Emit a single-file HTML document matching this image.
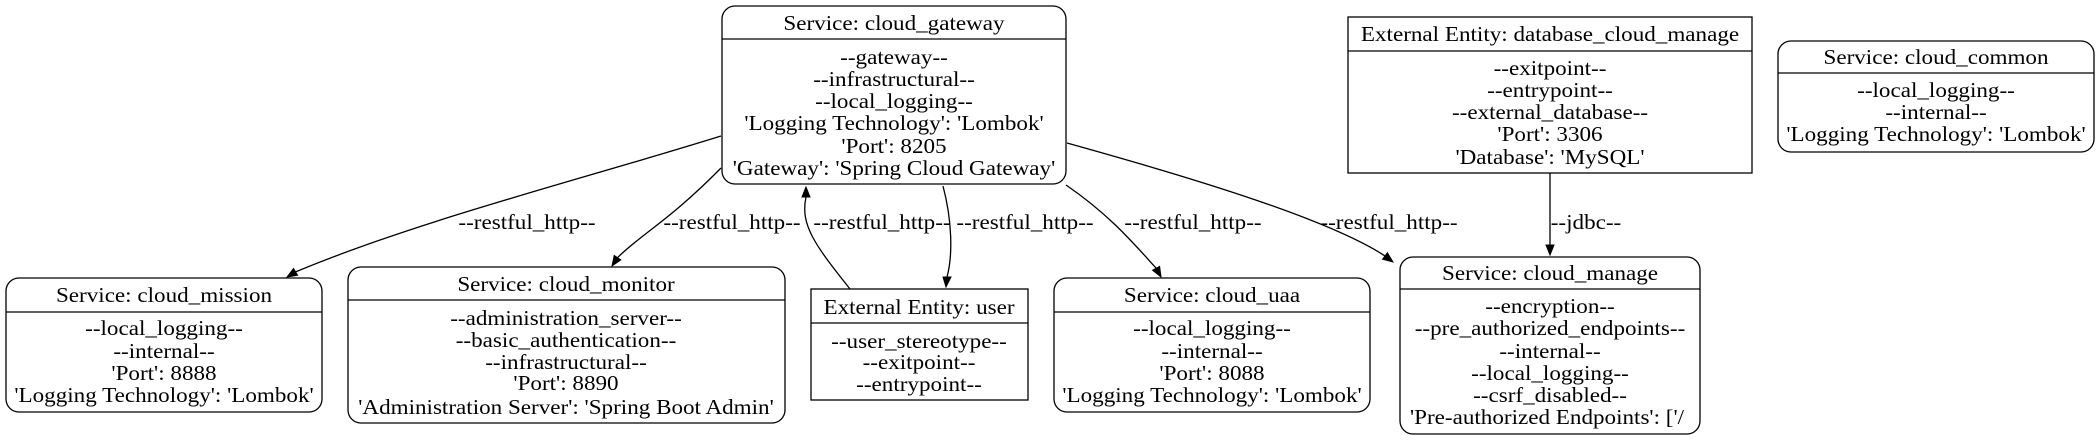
<!DOCTYPE html>
<html><head><meta charset="utf-8"><style>
html,body{margin:0;padding:0;background:#fff;width:2100px;height:440px;overflow:hidden}
svg{display:block}
text{font-family:"Liberation Serif",serif;font-size:21px;fill:#000}
</style></head><body>
<svg width="2100" height="440" viewBox="0 0 2100 440" xmlns="http://www.w3.org/2000/svg">
<g fill="none" stroke="#000" stroke-width="1.3">
<rect x="722" y="6" width="344" height="178" rx="13"/><line x1="722" y1="39" x2="1066" y2="39"/>
<rect x="6" y="278" width="316" height="134" rx="13"/><line x1="6" y1="312" x2="322" y2="312"/>
<rect x="348" y="267" width="437" height="156" rx="13"/><line x1="348" y1="300" x2="785" y2="300"/>
<rect x="811" y="289" width="217" height="111"/><line x1="811" y1="323" x2="1028" y2="323"/>
<rect x="1348" y="17" width="404" height="156"/><line x1="1348" y1="51" x2="1752" y2="51"/>
<rect x="1778" y="41" width="316" height="111" rx="13"/><line x1="1778" y1="73" x2="2094" y2="73"/>
<rect x="1054" y="278" width="316" height="134" rx="13"/><line x1="1054" y1="312" x2="1370" y2="312"/>
<rect x="1400" y="257" width="300" height="177" rx="13"/><line x1="1400" y1="289" x2="1700" y2="289"/>
<path d="M721,136 C580,180 420,220 295.6,271.9"/>
<path d="M721,168 C670,220 640,235 617.5,257.7"/>
<path d="M850,289 C815,245 800,225 806,197"/>
<path d="M943,186 C952,220 953,255 947,277"/>
<path d="M1066,185 C1110,215 1135,245 1156,268"/>
<path d="M1067,143 C1200,180 1330,220 1385,256"/>
<path d="M1550,173 L1550,245"/>
</g>
<g fill="#000" stroke="#000" stroke-width="1">
<polygon points="287,277 297.6,275.3 293.5,268.5"/>
<polygon points="612,266 620.8,259.9 614.2,255.5"/>
<polygon points="806,187 810,197 802,197"/>
<polygon points="946,287 943,277 951,277"/>
<polygon points="1161,277 1159.6,266.4 1152.6,270.2"/>
<polygon points="1393,262 1387.4,252.8 1382.6,259.2"/>
<polygon points="1550,255 1546,245 1554,245"/>
</g>
<g text-anchor="middle">
<text transform="matrix(1.1 0 0 1 894 30)">Service: cloud_gateway</text>
<text transform="matrix(1.1 0 0 1 894 64)">--gateway--</text>
<text transform="matrix(1.1 0 0 1 894 86)">--infrastructural--</text>
<text transform="matrix(1.1 0 0 1 894 108)">--local_logging--</text>
<text transform="matrix(1.1 0 0 1 894 130)">'Logging Technology': 'Lombok'</text>
<text transform="matrix(1.1 0 0 1 894 153)">'Port': 8205</text>
<text transform="matrix(1.1 0 0 1 894 175)">'Gateway': 'Spring Cloud Gateway'</text>
<text transform="matrix(1.1 0 0 1 164 302)">Service: cloud_mission</text>
<text transform="matrix(1.1 0 0 1 164 335)">--local_logging--</text>
<text transform="matrix(1.1 0 0 1 164 358)">--internal--</text>
<text transform="matrix(1.1 0 0 1 164 380)">'Port': 8888</text>
<text transform="matrix(1.1 0 0 1 164 402)">'Logging Technology': 'Lombok'</text>
<text transform="matrix(1.1 0 0 1 566 291)">Service: cloud_monitor</text>
<text transform="matrix(1.1 0 0 1 566 325)">--administration_server--</text>
<text transform="matrix(1.1 0 0 1 566 347)">--basic_authentication--</text>
<text transform="matrix(1.1 0 0 1 566 369)">--infrastructural--</text>
<text transform="matrix(1.1 0 0 1 566 390)">'Port': 8890</text>
<text transform="matrix(1.1 0 0 1 566 414)">'Administration Server': 'Spring Boot Admin'</text>
<text transform="matrix(1.1 0 0 1 919 314)">External Entity: user</text>
<text transform="matrix(1.1 0 0 1 919 348)">--user_stereotype--</text>
<text transform="matrix(1.1 0 0 1 919 369)">--exitpoint--</text>
<text transform="matrix(1.1 0 0 1 919 391)">--entrypoint--</text>
<text transform="matrix(1.1 0 0 1 1550 41)">External Entity: database_cloud_manage</text>
<text transform="matrix(1.1 0 0 1 1550 75)">--exitpoint--</text>
<text transform="matrix(1.1 0 0 1 1550 97)">--entrypoint--</text>
<text transform="matrix(1.1 0 0 1 1550 119)">--external_database--</text>
<text transform="matrix(1.1 0 0 1 1550 141)">'Port': 3306</text>
<text transform="matrix(1.1 0 0 1 1550 164)">'Database': 'MySQL'</text>
<text transform="matrix(1.1 0 0 1 1936 64)">Service: cloud_common</text>
<text transform="matrix(1.1 0 0 1 1936 97)">--local_logging--</text>
<text transform="matrix(1.1 0 0 1 1936 119)">--internal--</text>
<text transform="matrix(1.1 0 0 1 1936 141)">'Logging Technology': 'Lombok'</text>
<text transform="matrix(1.1 0 0 1 1212 302)">Service: cloud_uaa</text>
<text transform="matrix(1.1 0 0 1 1212 335)">--local_logging--</text>
<text transform="matrix(1.1 0 0 1 1212 358)">--internal--</text>
<text transform="matrix(1.1 0 0 1 1212 380)">'Port': 8088</text>
<text transform="matrix(1.1 0 0 1 1212 402)">'Logging Technology': 'Lombok'</text>
<text transform="matrix(1.1 0 0 1 1550 280)">Service: cloud_manage</text>
<text transform="matrix(1.1 0 0 1 1550 313)">--encryption--</text>
<text transform="matrix(1.1 0 0 1 1550 335)">--pre_authorized_endpoints--</text>
<text transform="matrix(1.1 0 0 1 1550 358)">--internal--</text>
<text transform="matrix(1.1 0 0 1 1550 380)">--local_logging--</text>
<text transform="matrix(1.1 0 0 1 1550 402)">--csrf_disabled--</text>
<text transform="matrix(1.1 0 0 1 1547 424)">'Pre-authorized Endpoints': ['/</text>
<text transform="matrix(1.1 0 0 1 527 229)">--restful_http--</text>
<text transform="matrix(1.1 0 0 1 732 229)">--restful_http--</text>
<text transform="matrix(1.1 0 0 1 882 229)">--restful_http--</text>
<text transform="matrix(1.1 0 0 1 1025 229)">--restful_http--</text>
<text transform="matrix(1.1 0 0 1 1193 229)">--restful_http--</text>
<text transform="matrix(1.1 0 0 1 1389 229)">--restful_http--</text>
<text transform="matrix(1.1 0 0 1 1586 229)">--jdbc--</text>
</g>
</svg>
</body></html>
